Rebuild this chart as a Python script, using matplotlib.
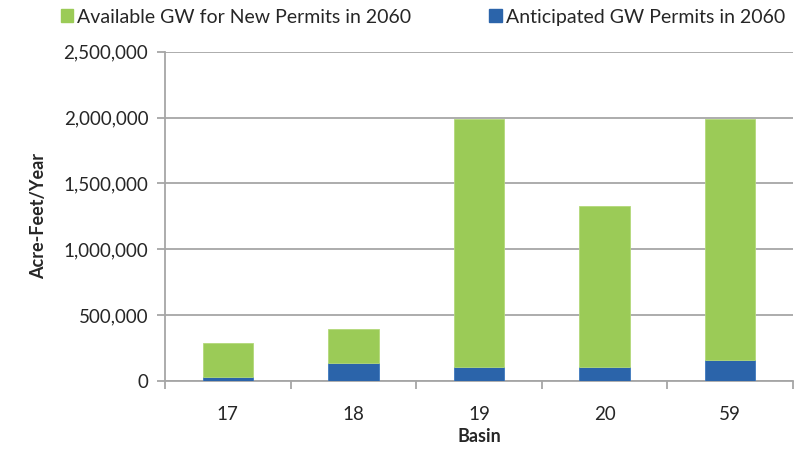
import matplotlib
matplotlib.use("Agg")
import matplotlib.pyplot as plt
import numpy as np
from matplotlib.ticker import FuncFormatter, FixedLocator
from matplotlib.patches import Patch

basins = ["17", "18", "19", "20", "59"]
anticipated = [26000, 132000, 106000, 106000, 160000]
total = [284000, 393000, 1992000, 1330000, 1992000]
available = [t - a for t, a in zip(total, anticipated)]

green = "#9BCB57"
blue = "#2B64AA"
grid_gray = "#A6A6A6"
text_color = "#262626"

plt.rcParams["font.family"] = ["Lato", "DejaVu Sans"]

fig = plt.figure(figsize=(8.01, 4.54), dpi=100)
ax = fig.add_axes([0.206, 0.1614, 0.784, 0.7246])

x = np.arange(len(basins))
w = 0.40
ax.bar(x, anticipated, width=w, color=blue, edgecolor="#3D78BE", linewidth=0.6, zorder=3)
ax.bar(x, available, width=w, bottom=anticipated, color=green, edgecolor="#B3D97A",
       linewidth=0.6, zorder=3)

ax.set_xlim(-0.5, len(basins) - 0.5)
ax.set_ylim(0, 2500000)
ax.set_yticks(np.arange(0, 2500001, 500000))
ax.yaxis.set_major_formatter(FuncFormatter(lambda v, p: f"{int(v):,}"))
ax.set_xticks(x)
ax.set_xticklabels(basins)
ax.xaxis.set_minor_locator(FixedLocator(np.arange(-0.5, len(basins), 1.0)))
ax.tick_params(axis="x", which="major", length=0, pad=18, labelsize=13.5, colors=text_color)
ax.tick_params(axis="x", which="minor", length=6, width=1.3, color=grid_gray, direction="out")
ax.tick_params(axis="y", length=6, width=1.3, color=grid_gray, direction="out", pad=6,
               labelsize=13.5, labelcolor=text_color)

ax.grid(axis="y", color=grid_gray, linewidth=1.3, zorder=0)
for side in ("top", "right"):
    ax.spines[side].set_visible(False)
for side in ("left", "bottom"):
    ax.spines[side].set_color(grid_gray)
    ax.spines[side].set_linewidth(1.3)

ax.set_ylabel("Acre-Feet/Year", fontsize=13, fontweight="bold", color=text_color, labelpad=12)
ax.set_xlabel("Basin", fontsize=13, fontweight="bold", color=text_color, labelpad=4)

# legend across the top
handles = [Patch(color=green), Patch(color=blue)]
labels = ["Available GW for New Permits in 2060", "Anticipated GW Permits in 2060"]
fig.legend(handles, labels, loc="center", bbox_to_anchor=(0.528, 0.962), ncol=2, frameon=False,
           fontsize=14, handlelength=0.65, handleheight=0.65, handletextpad=0.2,
           columnspacing=4.0, labelcolor=text_color)

fig.savefig("out.png", dpi=100, facecolor="white")
